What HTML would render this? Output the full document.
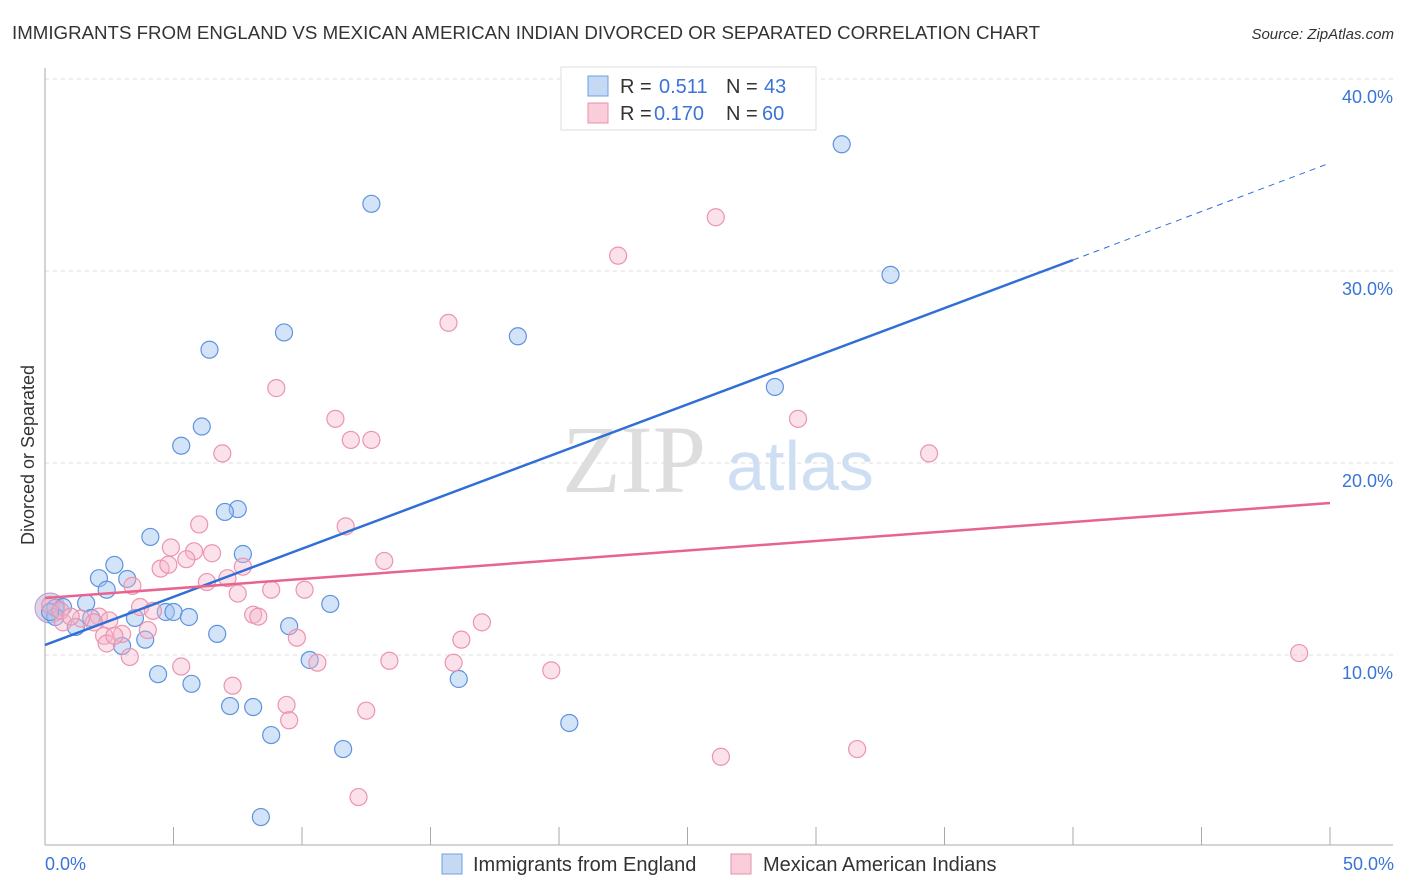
<!DOCTYPE html>
<html><head><meta charset="utf-8"><style>
body{margin:0;background:#fff;font-family:"Liberation Sans",sans-serif}
svg{display:block}
</style></head><body>
<svg id="c" width="1406" height="892">
<text x="12" y="39" font-size="18" fill="#333" textLength="1028" lengthAdjust="spacingAndGlyphs">IMMIGRANTS FROM ENGLAND VS MEXICAN AMERICAN INDIAN DIVORCED OR SEPARATED CORRELATION CHART</text>
<text x="1394" y="39" font-size="15" fill="#333" font-style="italic" text-anchor="end">Source: ZipAtlas.com</text>
<text x="634" y="492" font-size="96" fill="#ddd" font-family="Liberation Serif,serif" text-anchor="middle">ZIP</text>
<text x="800" y="490" font-size="70" fill="#cfdff3" text-anchor="middle">atlas</text>
<text transform="translate(34,455) rotate(-90)" font-size="18" fill="#333" text-anchor="middle">Divorced or Separated</text>
<g id="grid"></g><g id="marks"></g>
<g>
<rect x="561" y="67" width="255" height="63" fill="#fff" stroke="#ddd"/>
<rect x="588" y="76" width="20" height="20" fill="#c5d9f5" stroke="#6f9fe0"/>
<text x="620" y="93" font-size="20" fill="#333">R = </text><text x="659" y="93" font-size="20" fill="#3a74d6">0.511</text>
<text x="726" y="93" font-size="20" fill="#333">N = </text><text x="764" y="93" font-size="20" fill="#3a74d6">43</text>
<rect x="588" y="103" width="20" height="20" fill="#f9cdd9" stroke="#ea8fac"/>
<text x="620" y="120" font-size="20" fill="#333">R = </text><text x="654" y="120" font-size="20" fill="#3a74d6">0.170</text>
<text x="726" y="120" font-size="20" fill="#333">N = </text><text x="762" y="120" font-size="20" fill="#3a74d6">60</text>
</g>
<g>
<rect x="442" y="854" width="20" height="20" fill="#c5d9f5" stroke="#6f9fe0"/>
<text x="473" y="871" font-size="20" fill="#333">Immigrants from England</text>
<rect x="731" y="854" width="20" height="20" fill="#f9cdd9" stroke="#ea8fac"/>
<text x="763" y="871" font-size="20" fill="#333">Mexican American Indians</text>
</g>
<text x="45" y="870" font-size="18" fill="#3a74d6">0.0%</text>
<text x="1394" y="870" font-size="18" fill="#3a74d6" text-anchor="end">50.0%</text>
</svg>
<script>
const yTicks=[10,20,30,40];
const blueX=[31.0,12.7,32.9,9.3,18.4,6.4,28.4,6.1,5.3,7.5,7.0,4.1,7.7,2.7,2.1,3.2,2.4,1.6,11.1,0.4,0.7,1.8,0.4,1.2,3.5,4.7,5.0,5.6,9.5,6.7,3.9,3.0,10.3,4.4,16.1,5.7,7.2,8.1,20.4,8.8,11.6,8.4,0.2];
const blueY=[36.6,33.5,29.8,26.8,26.6,25.9,23.96,21.9,20.9,17.6,17.45,16.15,15.26,14.69,14.0,13.96,13.4,12.7,12.66,12.45,12.5,11.93,11.98,11.46,11.93,12.24,12.24,11.98,11.5,11.1,10.8,10.47,9.74,9.0,8.75,8.5,7.34,7.29,6.46,5.83,5.1,1.56,12.24];
const pinkX=[26.1,22.3,15.7,9.0,29.3,11.3,11.9,12.7,6.9,34.4,11.7,6.0,4.9,6.5,5.8,5.5,4.5,4.8,13.2,3.4,6.3,7.1,7.7,7.5,8.8,10.1,3.7,4.2,8.1,8.3,0.7,2.1,2.5,0.2,17.0,3.0,4.0,2.3,9.8,16.2,2.4,3.3,13.4,15.9,10.6,5.3,19.7,48.8,7.3,9.4,9.5,12.5,31.6,26.3,12.2,1.9,1.4,0.6,1.0,2.7];
const pinkY=[32.8,30.8,27.3,23.9,22.3,22.3,21.2,21.2,20.5,20.5,16.7,16.8,15.6,15.3,15.4,14.99,14.5,14.7,14.9,13.6,13.8,14.0,14.6,13.2,13.4,13.4,12.5,12.3,12.1,12.0,11.7,12.0,11.8,12.6,11.7,11.1,11.3,11.0,10.9,10.8,10.6,9.9,9.7,9.6,9.6,9.4,9.2,10.1,8.4,7.4,6.6,7.1,5.1,4.7,2.6,11.7,11.9,12.3,12.0,11.0];
const X=v=>45+v/50*1285, Y=v=>847-v*19.2;
const NS='http://www.w3.org/2000/svg';
function mk(t,a,p){const e=document.createElementNS(NS,t);for(const k in a)e.setAttribute(k,a[k]);p.appendChild(e);return e;}
const grid=document.getElementById('grid'),marks=document.getElementById('marks');
yTicks.forEach(t=>{
 const l=mk('line',{x1:45,x2:1393,y1:Y(t),y2:Y(t),stroke:'#ddd','stroke-dasharray':'4,4'},grid);
 
 
 const tx=mk('text',{x:1393,y:Y(t)+24,'font-size':18,fill:'#3a74d6','text-anchor':'end'},grid);tx.textContent=t.toFixed(1)+'%';
 
 
});
mk('line',{x1:45,x2:45,y1:68,y2:845,stroke:'#aaa'},grid);
mk('line',{x1:45,x2:1393,y1:845,y2:845,stroke:'#aaa'},grid);
for(let i=0;i<=10;i++){mk('line',{x1:X(i*5),x2:X(i*5),y1:827,y2:845,stroke:'#aaa'},grid);}
const big=mk('circle',{cx:50,cy:608,r:15,fill:'rgba(190,170,210,0.5)',stroke:'#b59ad0'},marks);


blueX.forEach((x,i)=>{const c=mk('circle',{cx:X(x),cy:Y(blueY[i]),r:8.5,fill:'rgba(160,196,240,0.45)',stroke:'#5f93de','stroke-width':1.2},marks);
 
 });
pinkX.forEach((x,i)=>{const c=mk('circle',{cx:X(x),cy:Y(pinkY[i]),r:8.5,fill:'rgba(246,180,200,0.4)',stroke:'#ec94b0','stroke-width':1.2},marks);
 
 });
const bl=mk('line',{x1:45,y1:645,x2:1073,y2:260,stroke:'#2f6fd6','stroke-width':2.5},marks);


mk('line',{x1:1073,y1:260,x2:1330,y2:163,stroke:'#2f6fd6','stroke-width':1,'stroke-dasharray':'6,5'},marks);
const pl=mk('line',{x1:45,y1:598,x2:1330,y2:503,stroke:'#e8648f','stroke-width':2.5},marks);


</script>
</body></html>
